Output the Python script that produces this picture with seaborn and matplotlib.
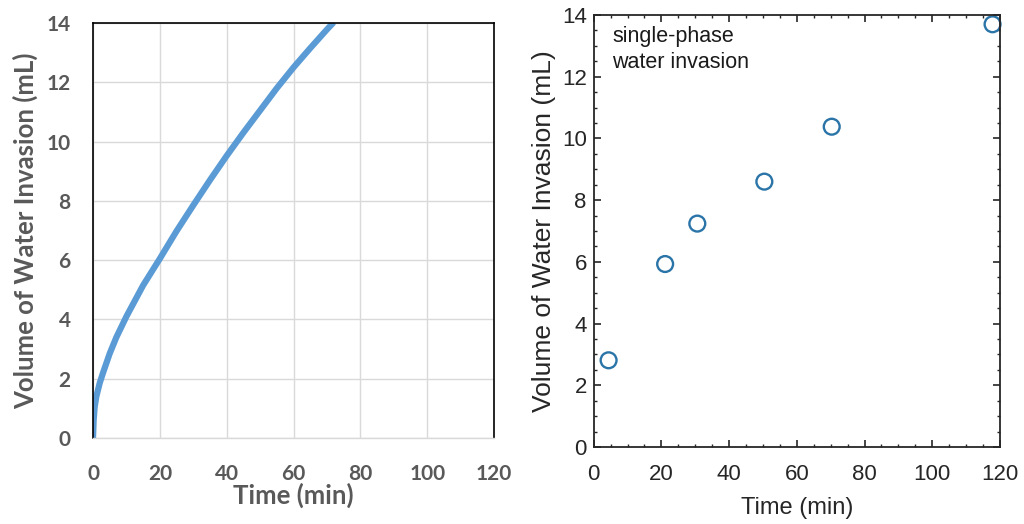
import numpy as np
import pandas as pd
import seaborn as sns
import matplotlib
matplotlib.use("Agg")
import matplotlib.pyplot as plt
from matplotlib.ticker import MultipleLocator

# Left panel: continuous model curve
curve_time = [0, 0.2, 0.5, 1, 2, 3, 5, 7, 10, 15, 20, 25, 30, 35, 40, 45, 50, 55, 60, 65, 70, 72]
curve_volume = [0, 0.6, 1.05, 1.4, 1.85, 2.2, 2.85, 3.4, 4.1, 5.15, 6.05, 6.98, 7.85, 8.7, 9.52, 10.3, 11.05, 11.8, 12.5, 13.15, 13.78, 14.02]

# Right panel: measured points
pts_time = [4.4, 21.1, 30.6, 50.4, 70.3, 117.8]
pts_volume = [2.81, 5.93, 7.24, 8.6, 10.38, 13.7]

x_ticks = [0, 20, 40, 60, 80, 100, 120]
y_ticks = [0, 2, 4, 6, 8, 10, 12, 14]
x_label = "Time (min)"
y_label = "Volume of Water Invasion (mL)"
annotation = "single-phase\nwater invasion"

sns.set_theme(style="white")
plt.rcParams['font.family'] = ['Liberation Sans', 'DejaVu Sans']

fig = plt.figure(figsize=(10.24, 5.24), dpi=100)
fig.patch.set_facecolor("white")

BOLD = ["Lato", "DejaVu Sans"]
GREY = "#595959"

# ---------------- Left panel (Excel-like) ----------------
axL = fig.add_axes([93/1024, 1-438/524, 401/1024, 415/524])
dfL = pd.DataFrame({"t": curve_time, "v": curve_volume})
sns.lineplot(data=dfL, x="t", y="v", ax=axL, color="#5b9bd5", linewidth=4.5,
             solid_capstyle="butt")
axL.set_xlim(0, 120)
axL.set_ylim(0, 14)
axL.set_xticks(x_ticks)
axL.set_yticks(y_ticks)
axL.grid(True, color="#d9d9d9", linewidth=1.0)
axL.set_axisbelow(True)
for s in ["left", "top", "right"]:
    axL.spines[s].set_color("black")
    axL.spines[s].set_linewidth(1.2)
axL.spines["bottom"].set_color("#d9d9d9")
axL.spines["bottom"].set_linewidth(1.0)
axL.tick_params(axis="both", length=0, labelsize=15, labelcolor=GREY)
axL.tick_params(axis="x", pad=19)
axL.tick_params(axis="y", pad=16)
for lab in axL.get_xticklabels() + axL.get_yticklabels():
    lab.set_fontfamily(BOLD)
    lab.set_fontweight("bold")
axL.set_xlabel(x_label, fontsize=18.5, fontweight="bold", color=GREY,
               family=BOLD, labelpad=-1)
axL.set_ylabel(y_label, fontsize=18.5, fontweight="bold", color=GREY,
               family=BOLD, labelpad=6)

# ---------------- Right panel (MATLAB-like) ----------------
axR = fig.add_axes([593.7/1024, 1-447/524, 406.3/1024, 432/524])
dfR = pd.DataFrame({"t": pts_time, "v": pts_volume})
sns.scatterplot(data=dfR, x="t", y="v", ax=axR, marker="o", s=130,
                facecolors="none", edgecolor="#2a74a8", linewidth=1.7, clip_on=False)
axR.set_xlim(0, 120)
axR.set_ylim(0, 14)
axR.set_xticks(x_ticks)
axR.set_yticks(y_ticks)
axR.xaxis.set_minor_locator(MultipleLocator(5))
axR.yaxis.set_minor_locator(MultipleLocator(0.5))
for s in axR.spines.values():
    s.set_color("#262626")
    s.set_linewidth(1.3)
axR.tick_params(axis="both", which="both", direction="in", top=True, right=True,
                bottom=True, left=True, color="#262626", labelcolor="#262626")
axR.tick_params(axis="both", which="major", length=5, width=1.2, labelsize=16)
axR.tick_params(axis="x", which="major", pad=12)
axR.tick_params(axis="y", which="major", pad=5)
axR.tick_params(axis="both", which="minor", length=2.5, width=1.0)
axR.set_xlabel(x_label, fontsize=17, color="#262626", labelpad=9)
axR.set_ylabel(y_label, fontsize=19, color="#262626", labelpad=4)
axR.text(5.5, 13.65, annotation, fontsize=15.5, color="#1a1a1a", va="top", ha="left",
         linespacing=1.3)

fig.savefig("out.png", dpi=100, facecolor="white")
